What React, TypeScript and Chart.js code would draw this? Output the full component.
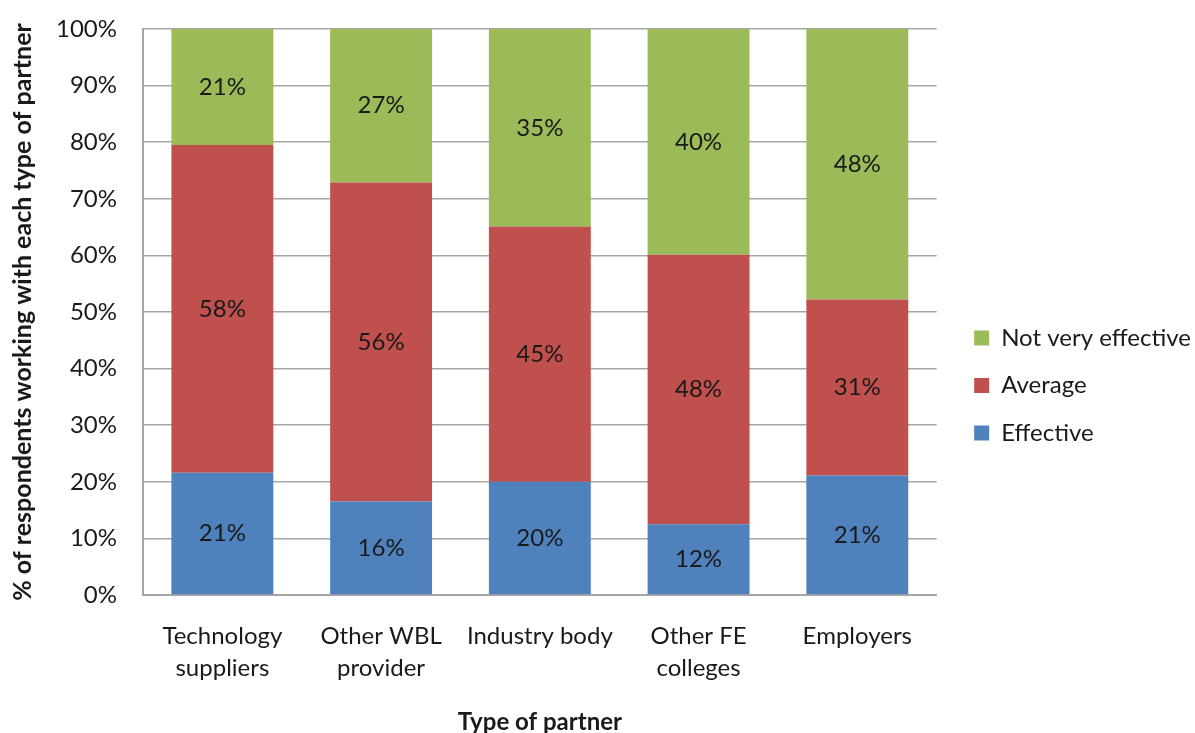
import React, { useEffect, useRef } from "react";
import { Chart, registerables } from "chart.js";

Chart.register(...registerables);

const categories: (string | string[])[] = [
  ["Technology", "suppliers"],
  ["Other WBL", "provider"],
  "Industry body",
  ["Other FE", "colleges"],
  "Employers",
];
const effective = [21.6, 16.5, 20.0, 12.5, 21.1];
const average = [57.9, 56.4, 45.1, 47.6, 31.1];
const notVeryEffective = [20.5, 27.1, 34.9, 39.9, 47.8];
const effectiveLabels = ["21%", "16%", "20%", "12%", "21%"];
const averageLabels = ["58%", "56%", "45%", "48%", "31%"];
const notVeryEffectiveLabels = ["21%", "27%", "35%", "40%", "48%"];

const FONT = "Lato, 'Noto Sans', sans-serif";
const TEXT = "#1a1a1a";
const GRID = "#a6a6a6";
const FS = 24;

const segmentLabels = {
  id: "segmentLabels",
  afterDatasetsDraw(chart: any) {
    const ctx = chart.ctx;
    ctx.save();
    ctx.font = `${FS}px ${FONT}`;
    ctx.fillStyle = TEXT;
    ctx.textAlign = "center";
    ctx.textBaseline = "middle";
    chart.data.datasets.forEach((ds: any, i: number) => {
      const meta = chart.getDatasetMeta(i);
      meta.data.forEach((bar: any, j: number) => {
        const p = bar.getProps(["x", "y", "base"], true);
        ctx.fillText(ds.segLabels[j], p.x, (p.y + p.base) / 2);
      });
    });
    ctx.restore();
  },
};

export default function App() {
  const ref = useRef<HTMLCanvasElement>(null);
  useEffect(() => {
    if (!ref.current) return;
    const chart = new Chart(ref.current, {
      type: "bar",
      data: {
        labels: categories,
        datasets: [
          { label: "Effective", data: effective, backgroundColor: "#4F81BD", segLabels: effectiveLabels } as any,
          { label: "Average", data: average, backgroundColor: "#C0504D", segLabels: averageLabels } as any,
          { label: "Not very effective", data: notVeryEffective, backgroundColor: "#9BBB59", segLabels: notVeryEffectiveLabels } as any,
        ],
      },
      options: {
        responsive: false,
        animation: false,
        layout: { padding: { left: 8, top: 0, right: -6, bottom: 0 } },
        datasets: { bar: { barPercentage: 0.642, categoryPercentage: 1 } },
        plugins: {
          legend: {
            position: "right",
            reverse: true,
            title: { display: true, text: " ", font: { size: 10 }, padding: { top: 13, bottom: 13 } },
            labels: {
              boxWidth: 15,
              boxHeight: 15,
              padding: 23.5,
              color: TEXT,
              font: { family: FONT, size: FS },
            },
          },
          tooltip: { enabled: false },
        },
        scales: {
          x: {
            stacked: true,
            grid: { display: false, drawTicks: false },
            border: { display: true, color: GRID, width: 2 },
            ticks: { color: TEXT, padding: 26, font: { family: FONT, size: FS, lineHeight: 1.3 }, maxRotation: 0 },
            title: {
              display: true,
              text: "Type of partner",
              color: TEXT,
              font: { family: FONT, size: FS, weight: "bold" },
              padding: { top: 0, bottom: -4 },
            },
            afterFit: (s: any) => {
              s.height = 138;
            },
          },
          y: {
            stacked: true,
            min: 0,
            max: 100,
            grid: { color: GRID, lineWidth: 1.5, drawTicks: false },
            border: { display: true, color: GRID, width: 2 },
            ticks: { stepSize: 10, color: TEXT, padding: 26, font: { family: FONT, size: FS }, callback: (v: any) => v + "%" },
            title: {
              display: true,
              text: "% of respondents working with each type of partner",
              color: TEXT,
              font: { family: FONT, size: 25, weight: "bold" },
              padding: { top: 0, bottom: 4 },
            },
            afterFit: (s: any) => {
              s.width = 135;
              s.paddingTop = 29;
              s.paddingBottom = 0;
            },
          },
          gap: {
            type: "linear",
            position: "right",
            display: false,
            afterFit: (s: any) => {
              s.width = 14;
            },
          },
        },
      },
      plugins: [segmentLabels],
    });
    return () => chart.destroy();
  }, []);
  return (
    <div style={{ position: "fixed", left: 0, top: 0, width: 1195, height: 733, background: "#fff" }}>
      <canvas ref={ref} width={1195} height={733} />
    </div>
  );
}
